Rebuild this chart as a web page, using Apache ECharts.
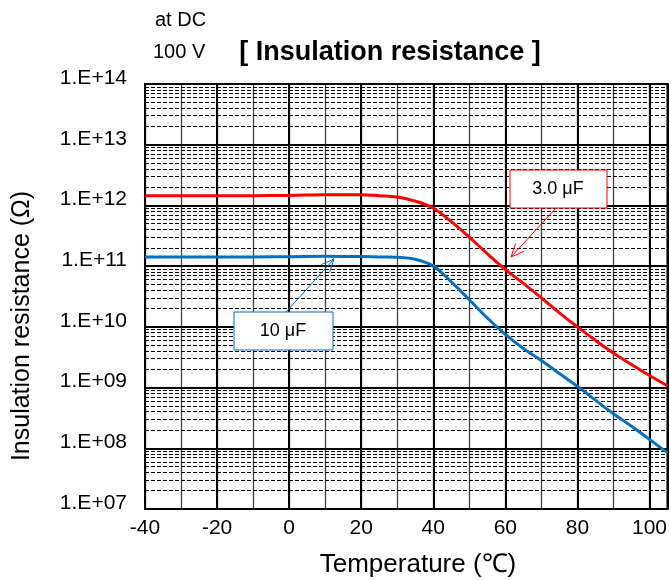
<!DOCTYPE html>
<html>
<head>
<meta charset="utf-8">
<script src="https://cdn.jsdelivr.net/npm/echarts@6/dist/echarts.min.js"></script>
<style>html,body{margin:0;padding:0;background:#fff;}#c{width:670px;height:580px;}</style>
</head>
<body>
<div id="c"></div>
<script>
const temps = [-40,-30,-20,-10,0,10,20,25,30,35,40,45,50,55,60,65,70,75,80,85,90,95,100,105];
const cap3uF = [1.45e12,1.45e12,1.45e12,1.45e12,1.46e12,1.5e12,1.5e12,1.45e12,1.38e12,1.18e12,9.0e11,5.4e11,3.0e11,1.6e11,8.8e10,5.2e10,3.0e10,1.7e10,1.0e10,6.0e9,3.7e9,2.4e9,1.58e9,1.07e9];
const cap10uF = [1.42e11,1.42e11,1.42e11,1.42e11,1.43e11,1.45e11,1.44e11,1.42e11,1.4e11,1.3e11,1.0e11,5.5e10,2.8e10,1.4e10,7.5e9,4.4e9,2.8e9,1.7e9,1.05e9,6.2e8,3.7e8,2.3e8,1.4e8,8.4e7];
const seriesNames = ['3.0 μF','10 μF'];
const yTickLabels = ['1.E+07','1.E+08','1.E+09','1.E+10','1.E+11','1.E+12','1.E+13','1.E+14'];
const decades = [7,8,9,10,11,12,13];
const minorMultipliers = [2,3,4,5,6,7,8,9];

const FONT = "'Liberation Sans', Arial, sans-serif";
const minorLines = [];
decades.forEach(d => minorMultipliers.forEach(m => minorLines.push({ yAxis: m * Math.pow(10, d) })));

const chart = echarts.init(document.getElementById('c'));
const gridL = 145, gridT = 84, gridR = 1, gridB = 71;

function arrow(x1, y1, x2, y2, color) {
  const dx = x2 - x1, dy = y2 - y1, L = Math.hypot(dx, dy);
  const ux = -dx / L, uy = -dy / L, len = 14, a = 0.42;
  const b1 = [x2 + len * (ux * Math.cos(a) - uy * Math.sin(a)), y2 + len * (ux * Math.sin(a) + uy * Math.cos(a))];
  const b2 = [x2 + len * (ux * Math.cos(-a) - uy * Math.sin(-a)), y2 + len * (ux * Math.sin(-a) + uy * Math.cos(-a))];
  return [
    { type: 'line', shape: { x1, y1, x2, y2 }, style: { stroke: color, lineWidth: 1 }, z: 100 },
    { type: 'polyline', shape: { points: [b1, [x2, y2], b2] }, style: { stroke: color, lineWidth: 1, fill: null }, z: 100 }
  ];
}

const option = {
  backgroundColor: '#fff',
  animation: false,
  grid: { left: gridL, top: gridT, right: gridR, bottom: gridB, show: true, borderColor: '#000', borderWidth: 2, backgroundColor: '#fff' },
  xAxis: [{
    type: 'value', min: -40, max: 105, interval: 20,
    axisLine: { show: true, lineStyle: { color: '#000', width: 2 } },
    axisTick: { show: false },
    axisLabel: { show: true, showMaxLabel: false, color: '#000', fontFamily: FONT, fontSize: 21, margin: 9 },
    splitLine: { show: true, lineStyle: { color: '#000', width: 2 } },
    z: 5
  }, {
    type: 'value', min: -40, max: 105, interval: 10, position: 'bottom',
    axisLine: { show: false }, axisTick: { show: false }, axisLabel: { show: false },
    splitLine: { show: true, lineStyle: { color: '#444', width: 1.3 } },
    z: 1
  }],
  yAxis: {
    type: 'log', logBase: 10, min: 1e7, max: 1e14, interval: 1,
    axisLine: { show: true, lineStyle: { color: '#000', width: 2 } },
    axisTick: { show: false },
    axisLabel: {
      color: '#000', fontFamily: FONT, fontSize: 21, margin: 18,
      verticalAlign: 'bottom', lineHeight: 12,
      formatter: v => yTickLabels[Math.round(Math.log10(v)) - 7]
    },
    splitLine: { show: true, lineStyle: { color: '#000', width: 2 } },
    z: 5
  },
  series: [
    {
      type: 'line', data: [], silent: true, z: 1,
      markLine: {
        silent: true, symbol: 'none', animation: false,
        label: { show: false },
        lineStyle: { color: '#000', width: 1, type: [4, 2] },
        data: minorLines
      }
    },
    {
      name: seriesNames[0], type: 'line', smooth: 0.4, showSymbol: false, z: 10,
      lineStyle: { color: '#FF0000', width: 3 },
      data: temps.map((t, i) => [t, cap3uF[i]])
    },
    {
      name: seriesNames[1], type: 'line', smooth: 0.4, showSymbol: false, z: 10,
      lineStyle: { color: '#0070C0', width: 3 },
      data: temps.map((t, i) => [t, cap10uF[i]])
    }
  ],
  graphic: [
    { type: 'text', x: 155, y: 20, style: { text: 'at DC', font: '20px ' + FONT, fill: '#000', verticalAlign: 'middle' } },
    { type: 'text', x: 153, y: 52, style: { text: '100 V', font: '20px ' + FONT, fill: '#000', verticalAlign: 'middle' } },
    { type: 'text', x: 390, y: 53, style: { text: '[ Insulation resistance ]', font: 'bold 27px ' + FONT, fill: '#000', align: 'center', verticalAlign: 'middle' } },
    { type: 'text', x: 22, y: 326, rotation: Math.PI / 2, style: { text: 'Insulation resistance (Ω)', font: '25px ' + FONT, fill: '#000', align: 'center', verticalAlign: 'middle' } },
    { type: 'text', x: 418, y: 565, style: { text: 'Temperature (℃)', font: '26px ' + FONT, fill: '#000', align: 'center', verticalAlign: 'middle' } },
    { type: 'rect', shape: { x: 510, y: 170, width: 97, height: 38 }, style: { fill: '#fff', stroke: '#FF0000', lineWidth: 1 }, z: 100 },
    { type: 'text', x: 558, y: 189, z: 101, style: { text: seriesNames[0], font: '18px ' + FONT, fill: '#000', align: 'center', verticalAlign: 'middle' } },
    ...arrow(556, 208, 511, 257, '#FF0000'),
    { type: 'rect', shape: { x: 234, y: 312, width: 99, height: 38 }, style: { fill: '#fff', stroke: '#0070C0', lineWidth: 1 }, z: 100 },
    { type: 'text', x: 283, y: 331, z: 101, style: { text: seriesNames[1], font: '18px ' + FONT, fill: '#000', align: 'center', verticalAlign: 'middle' } },
    ...arrow(286, 312, 334, 259, '#0070C0')
  ]
};
chart.setOption(option);
</script>
</body>
</html>
